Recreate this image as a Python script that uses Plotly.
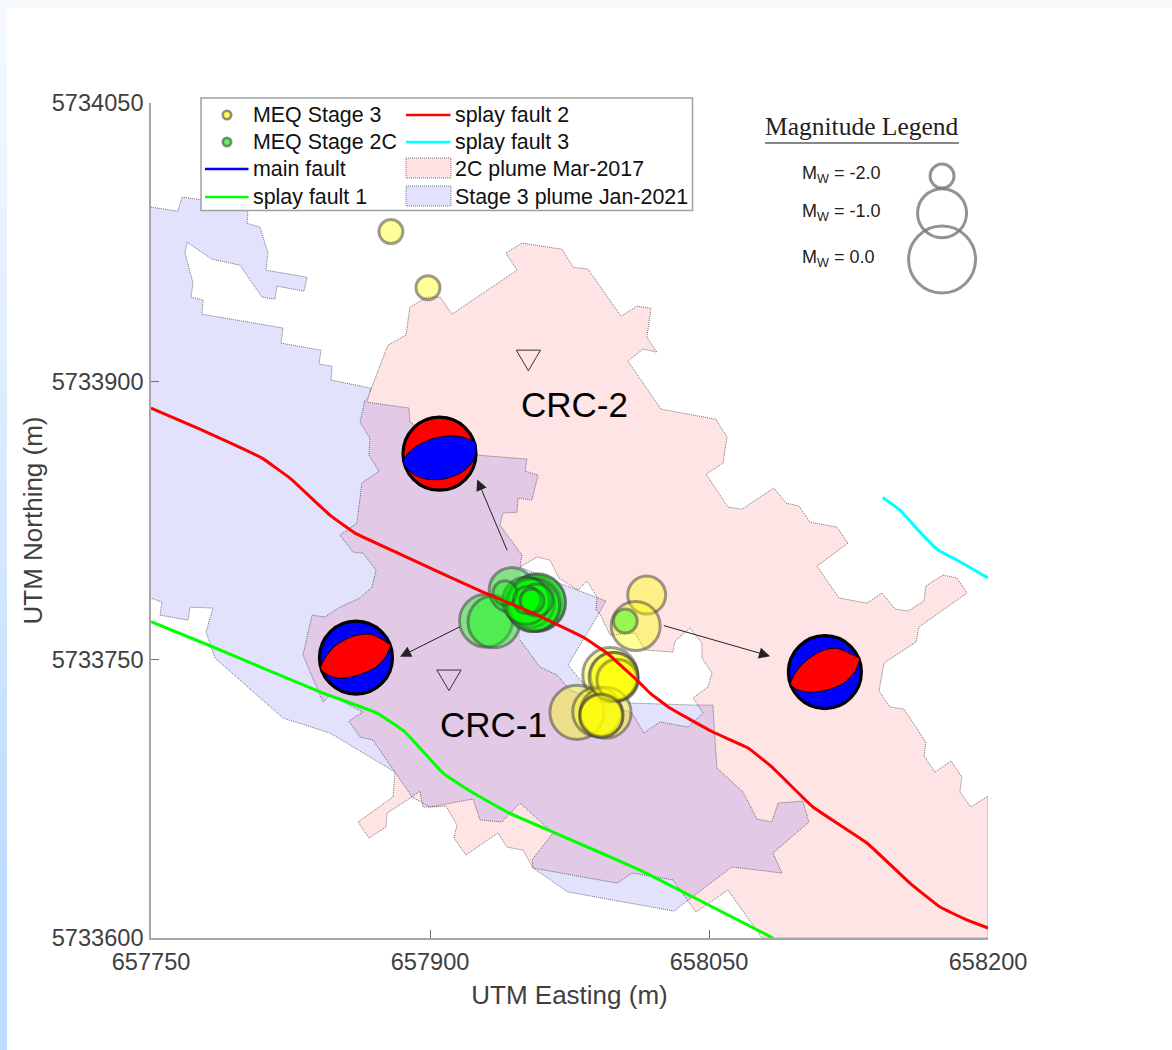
import numpy as np
import plotly.graph_objects as go

# All coordinates: metres east / north of the map's SW corner
E0, N0 = 657750, 5733600
x_ticks = [657750, 657900, 658050, 658200]
y_ticks = [5733600, 5733750, 5733900, 5734050]

plume2c_e = [117.7,127.4,137.1,139.2,148.4,155.4,161.8,196.8,190.8,199.4,221.0,226.9,234.9,252.7,261.3,268.8,266.6,272.0,264.5,256.4,274.2,303.7,309.7,307.5,298.4,310.2,317.7,334.9,341.4,348.4,354.3,368.8,374.7,358.0,369.9,384.9,393.0,400.0,407.0,415.6,416.6,425.8,433.3,438.7,412.9,411.3,394.1,391.4,397.3,404.8,416.6,415.6,421.5,430.1,436.0,434.9,440.8,450,450,328.5,310.2,293.0,280.6,258.6,250.5,205.4,200.0,191.4,186.5,169.3,162.9,164.5,158.6,150.0,140.3,126.9,126.3,117.2,111.3,130.1,131.2,119.3,112.4,106.4,114.0,96.2,92.5,81.7,86.6,93.5,101.6,112.4,118.8,121.0,114.0,108.6,101.6,110.7,113.4,122.6,117.2,117.7,112.4,115.0]
plume2c_n = [294.2,319.5,324.9,340.0,345.4,345.4,336.2,359.9,369.1,374.5,371.2,361.5,360.5,335.1,340.5,339.4,323.8,315.7,317.4,310.9,285.0,279.6,269.9,255.9,250.0,232.2,231.1,242.5,234.4,232.8,224.1,221.4,212.8,200.4,183.2,180.5,185.9,177.3,176.2,181.6,189.7,195.6,194.0,185.9,167.6,159.5,148.2,133.1,124.5,123.4,105.6,98.1,89.4,95.4,86.7,78.7,70.6,76.5,0,0,25.9,14.0,31.3,35.0,29.6,37.7,47.4,49.0,56.6,44.7,53.9,60.9,71.1,70.6,76.0,67.4,59.8,53.9,62.5,76.0,89.4,106.7,108.3,116.9,121.8,130.9,127.2,152.5,174.0,173.0,178.3,183.2,189.1,198.3,207.4,208.0,217.1,223.6,245.2,251.6,260.2,269.4,278.0,289.9]
hole2c_e = [198.4,207.5,214.5,219.3,229.6,234.4,239.8,239.2,241.4,246.8,260.2,265.6,280.6,281.7,289.8,296.2,296.2,301.6,299.4,291.4,296.8,288.7,273.6,265.0,258.6,225.3,218.3,209.1,198.4]
hole2c_n = [199.9,205.3,203.7,194.0,187.5,192.4,183.7,176.7,174.6,163.3,164.3,155.2,154.1,160.0,167.0,158.9,150.9,142.8,135.2,129.3,121.2,113.7,116.4,110.5,121.2,133.6,141.7,146.0,160.6]
plume3_e = [0,14.5,16.7,28.5,47.8,52.1,51.6,58.6,62.9,61.8,83.9,82.3,67.7,66.7,59.7,47.8,32.8,19.4,18.3,22.6,21.5,28.0,27.4,71.0,69.9,91.4,90.3,97.3,96.8,118.3,116.1,138.7,139.2,155.4,175.8,202.1,201.1,208.1,204.8,197.3,196.8,189.2,187.6,199.4,198.4,219.3,239.8,244.6,240.3,224.2,232.2,257.5,293.5,302.1,303.2,304.3,318.3,325.8,333.8,337.1,350.5,353.7,334.4,339.2,312.3,281.2,224.2,205.4,204.8,216.1,198.4,188.7,176.9,173.1,150.0,146.2,144.6,140.3,131.2,96.2,71.0,34.4,29.6,33.3,21.0,19.9,4.8,5.9,0]
plume3_n = [393.9,391.7,399.3,397.6,394.9,391.2,385.2,383.1,369.1,359.9,356.1,348.6,351.3,344.3,345.4,362.6,365.8,375.0,369.1,352.9,345.4,343.8,336.2,328.7,320.6,316.8,309.3,308.2,300.7,296.3,288.8,285.6,278.0,268.3,260.2,258.1,251.6,249.5,236.0,237.1,229.5,229.0,222.5,206.4,199.9,191.3,183.7,181.6,174.0,147.1,137.4,126.6,125.5,125.5,106.7,91.6,78.7,64.1,62.5,72.7,73.8,62.5,45.8,35.0,38.3,14.5,24.8,37.7,42.0,56.6,72.7,62.5,63.6,74.9,70.6,70.6,79.2,76.0,89.4,110.5,118.5,150.9,164.9,177.8,178.3,171.3,174.0,181.0,183.2]

fault1_e = [0,31.7,60.2,92.5,121.5,136.6,157.0,171.5,191.4,216.1,262.9,291.4,334.4]
fault1_n = [170.5,157.5,145.5,132.0,121.2,111.0,88.9,79.2,67.9,57.1,36.6,22.1,0]
fault2_e = [0,26.3,45.2,59.7,74.7,96.2,109.7,133.9,160.7,178.5,205.4,232.2,245.1,262.9,268.3,279.0,302.1,321.0,333.9,355.9,384.9,408.0,424.2,437.6,450]
fault2_n = [285.6,274.2,265.6,258.6,247.8,227.9,218.2,206.9,194.5,186.4,175.1,162.2,153.6,137.4,132.0,123.9,111.0,102.4,92.1,70.6,51.2,29.6,16.7,10.2,5.4]
fault3_e = [393.4,402.7,415.0,423.1,433.3,450]
fault3_n = [237.4,230.6,217.1,209.1,203.7,194.0]

meq3_e = [129.0,148.9,266.5,260.6,246.9,248.9,250.4,229.0,239.9,244.4,242.3,250.9,248.7,242.0]
meq3_n = [380.7,350.5,184.8,168.1,141.7,141.2,139.4,121.6,121.9,121.4,120.2,139.0,140.7,119.7]
meq3_mw = [-2.04,-2.0,-1.44,-1.0,-0.67,-1.08,-1.36,-0.72,-1.0,-0.89,-1.24,-1.32,-1.0,-1.24]
meq2c_e = [180.1,184.4,193.9,207.4,205.9,207.5,203.8,205.4,201.6,190.3,207.4,202.1,204.8,255.0]
meq2c_n = [171.0,170.4,187.5,180.5,180.0,181.0,180.5,179.4,181.7,186.0,182.1,182.1,181.6,170.8]
meq2c_mw = [-0.78,-0.83,-1.16,-0.56,-0.67,-0.56,-1.0,-0.78,-1.08,-2.0,-1.68,-1.88,-2.04,-2.04]

mw_scale = [-2.0, -1.0, 0.0]
mw_scale_e = [425.3, 425.3, 425.3]
mw_scale_n = [410.6, 390.6, 365.6]
mw_labels = ["M<sub>W</sub> = -2.0", "M<sub>W</sub> = -1.0", "M<sub>W</sub> = 0.0"]

ball_e = [155.1, 110.2, 362.3]
ball_n = [261.0, 151.1, 143.3]
lens1_e = [135.6,138.3,142.8,151.8,160.7,167.9,174.6,174.6,174.7,172.4,166.1,157.1,148.2,141.0]
lens1_n = [256.6,261.2,265.1,269.2,270.6,269.8,267.1,267.1,261.2,255.8,250.4,247.3,247.3,250.0]
lens2_e = [91.2,93.5,98.9,108.8,118.6,128.9,128.9,126.3,120.4,111.4,101.6,95.3]
lens2_n = [145.3,150.7,157.3,162.7,163.6,157.9,157.9,151.6,145.6,141.7,139.9,141.7]
lens3_e = [343.9,346.2,351.6,360.6,368.6,381.2,381.2,378.5,372.2,363.3,354.3,347.1]
lens3_n = [136.7,142.6,148.9,154.8,156.1,150.7,150.7,143.5,137.2,133.6,132.5,134.0]

arrow_tail_e = [191.8, 166.8, 274.9]
arrow_tail_n = [208.1, 168.1, 168.6]
arrow_tip_e = [175.4, 133.9, 332.8]
arrow_tip_n = [247.1, 151.6, 151.9]

well_names = ["CRC-1", "CRC-2"]
well_e = [160.2, 202.9]
well_n = [139.0, 311.4]
well_label_e = [184.0, 227.5]
well_label_n = [115.0, 287.7]

legend_rows = [("MEQ Stage 3", "splay fault 2"), ("MEQ Stage 2C", "splay fault 3"),
               ("main fault", "2C plume Mar-2017"), ("splay fault 1", "Stage 3 plume Jan-2021")]

# ---- styling / layout -----
W, H = 1172, 1050
L, R, T, B = 151, 988, 103, 938
FONT = "Liberation Sans"
PINK = "rgba(255,20,30,0.115)"
LAV = "rgba(0,0,240,0.115)"
EDGE = dict(color="rgba(50,50,50,0.85)", width=0.8, dash="1px,1px")

ex = lambda v: (np.asarray(v, dtype=float) + E0)
nx = lambda v: (np.asarray(v, dtype=float) + N0)
px = lambda v: (v - L) / (R - L)
py = lambda v: (B - v) / (B - T)
diam = lambda m: np.interp(m, mw_scale, [27, 52, 70]) - 3

fig = go.Figure()

pink_e = plume2c_e + [None] + hole2c_e[::-1]
pink_n = plume2c_n + [None] + hole2c_n[::-1]
fig.add_trace(go.Scatter(x=[None if v is None else v + E0 for v in pink_e],
                         y=[None if v is None else v + N0 for v in pink_n],
                         mode="lines", fill="toself", fillcolor=PINK, line=EDGE, name="2C plume Mar-2017"))
fig.add_trace(go.Scatter(x=ex(plume3_e), y=nx(plume3_n), mode="lines", fill="toself",
                         fillcolor=LAV, line=EDGE, name="Stage 3 plume Jan-2021"))

# wells
for e, n in zip(well_e, well_n):
    fig.add_trace(go.Scatter(x=ex([e - 6.5, e + 6.5, e, e - 6.5]), y=nx([n + 5.4, n + 5.4, n - 5.7, n + 5.4]),
                             mode="lines", line=dict(color="#333333", width=1), name="well"))

EDGE_M = "rgba(60,60,60,0.5)"
fig.add_trace(go.Scatter(x=ex(meq3_e), y=nx(meq3_n), mode="markers", name="MEQ Stage 3",
                         marker=dict(size=diam(meq3_mw), opacity=1, color="rgba(255,255,0,0.4)",
                                     line=dict(color=EDGE_M, width=3))))
fig.add_trace(go.Scatter(x=ex(meq2c_e), y=nx(meq2c_n), mode="markers", name="MEQ Stage 2C",
                         marker=dict(size=diam(meq2c_mw), opacity=1, color="rgba(0,255,0,0.4)",
                                     line=dict(color=EDGE_M, width=3))))

def fault(e, n, name, col):
    fig.add_trace(go.Scatter(x=ex(e), y=nx(n), mode="lines", name=name,
                             line=dict(color=col, width=3, shape="spline", smoothing=0.3)))
fault(fault1_e, fault1_n, "splay fault 1", "#00ff00")
fault(fault2_e, fault2_n, "splay fault 2", "#ff0000")
fault(fault3_e, fault3_n, "splay fault 3", "#00ffff")

# beach balls
ball_bg = ["#ff0000", "#0000ff", "#0000ff"]
ball_fg = ["#0000ff", "#ff0000", "#ff0000"]
lenses = [(lens1_e, lens1_n), (lens2_e, lens2_n), (lens3_e, lens3_n)]
for i in range(3):
    fig.add_trace(go.Scatter(x=ex([ball_e[i]]), y=nx([ball_n[i]]), mode="markers",
                             marker=dict(size=73, color=ball_bg[i], line=dict(color="black", width=3.2)),
                             name="focal mechanism"))
    le, ln = lenses[i]
    fig.add_trace(go.Scatter(x=ex(le + le[:1]), y=nx(ln + ln[:1]), mode="lines", fill="toself",
                             fillcolor=ball_fg[i],
                             line=dict(color="black", width=1, shape="spline", smoothing=0.8, simplify=False),
                             name="focal mechanism"))

# magnitude scale
fig.add_trace(go.Scatter(x=ex(mw_scale_e), y=nx(mw_scale_n), mode="markers", name="Magnitude Legend",
                         marker=dict(size=diam(mw_scale), opacity=1, color="rgba(0,0,0,0)",
                                     line=dict(color="rgba(120,120,120,0.8)", width=3))))

shapes, ann = [], []

# page tint round the figure
def rect(x0, y0, x1, y1, fill, line=None, lw=0, dash=None, layer="above"):
    return dict(type="rect", xref="paper", yref="paper", x0=px(x0), x1=px(x1), y0=py(y0), y1=py(y1),
                fillcolor=fill, line=dict(color=line or "rgba(0,0,0,0)", width=lw, dash=dash), layer=layer)

shapes.append(rect(0, 0, W, 8, "#f8fafe", layer="below"))
steps = 35
for i in range(steps):
    t = i / (steps - 1)
    c0, c1 = np.array([246, 250, 255]), np.array([189, 220, 255])
    c = c0 + (c1 - c0) * min(1.0, t * 1.15)
    shapes.append(rect(0, H * i / steps, 7, H * (i + 1) / steps + 1, "rgb(%d,%d,%d)" % tuple(c), layer="below"))

# hand-built legend box
shapes.append(rect(201, 98, 692.5, 210.5, "white", "#a0a0a0", 1.5))
rows_y = [115, 142, 169, 197]
def hline(x0, x1, y, col):
    return dict(type="line", xref="paper", yref="paper", x0=px(x0), x1=px(x1), y0=py(y), y1=py(y),
                line=dict(color=col, width=2.6), layer="above")
def dot(cx, y, col):
    r = 4.2
    return dict(type="circle", xref="paper", yref="paper", x0=px(cx - r), x1=px(cx + r), y0=py(y + r), y1=py(y - r),
                fillcolor=col, line=dict(color="rgba(70,70,50,0.6)", width=2.6), layer="above")
shapes += [dot(227, rows_y[0], "rgba(255,255,100,1)"), dot(227, rows_y[1], "rgba(100,240,100,1)"),
           hline(205, 248.5, rows_y[2], "#0000ff"), hline(205, 248.5, rows_y[3], "#00ff00"),
           hline(406, 450.5, rows_y[0], "#ff0000"), hline(406, 450.5, rows_y[1], "#00ffff"),
           rect(406, 158, 451, 178, "rgb(254,225,227)", "rgb(90,90,90)", 0.8, "1px,1px"),
           rect(406, 186, 451, 206, "rgb(226,226,252)", "rgb(90,90,90)", 0.8, "1px,1px")]
# magnitude legend underline
shapes.append(dict(type="line", xref="paper", yref="paper", x0=px(765), x1=px(959), y0=py(143), y1=py(143),
                   line=dict(color="#888888", width=2), layer="above"))

def text(s, x, y, size, color="#111111", anchor="left", family=FONT):
    return dict(text=s, xref="paper", yref="paper", x=px(x), y=py(y), xanchor=anchor, yanchor="middle",
                showarrow=False, font=dict(size=size, color=color, family=family))

for (a, b), y in zip(legend_rows, rows_y):
    ann.append(text(a, 251, y, 21.4))
    ann.append(text(b, 453, y, 21.4))

ann.append(text("Magnitude Legend", 862, 127, 25.5, "#222222", "center", "Liberation Serif"))
for s, y in zip(mw_labels, [174.5, 212.5, 258.5]):
    ann.append(text(s, 800, y, 18, "#222222"))

for name, e, n in zip(well_names, well_label_e, well_label_n):
    ann.append(dict(text=name, x=E0 + e, y=N0 + n, xref="x", yref="y", showarrow=False,
                    font=dict(size=35, color="#000000", family=FONT)))

for te, tn, he, hn in zip(arrow_tail_e, arrow_tail_n, arrow_tip_e, arrow_tip_n):
    ann.append(dict(x=he + E0, y=hn + N0, ax=te + E0, ay=tn + N0, xref="x", yref="y", axref="x", ayref="y",
                    text="", showarrow=True, arrowhead=2, arrowsize=2.2, arrowwidth=1, arrowcolor="#222222"))

axis = dict(showgrid=False, zeroline=False, showline=True, linecolor="#a6a6a6", linewidth=1.5,
            ticks="inside", ticklen=8, tickwidth=1, tickcolor="#707070", mirror=False,
            ticklabelstandoff=2, tickfont=dict(size=23.6, color="#404040", family=FONT), tickformat="d")

fig.update_layout(
    width=W, height=H, autosize=False, showlegend=False,
    margin=dict(l=L, r=W - R, t=T, b=H - B, pad=0),
    paper_bgcolor="white", plot_bgcolor="white",
    font=dict(family=FONT),
    shapes=shapes, annotations=ann,
    xaxis=dict(axis, range=[E0, E0 + 450], tickvals=x_ticks,
               title=dict(text="UTM Easting (m)", font=dict(size=26, color="#404040", family=FONT), standoff=12)),
    yaxis=dict(axis, range=[N0, N0 + 450], tickvals=y_ticks, ticklabelstandoff=1,
               title=dict(text="UTM Northing (m)", font=dict(size=26, color="#404040", family=FONT), standoff=2)),
)

fig.write_html("out.html", config={"displayModeBar": False},
               post_script="document.body.style.margin='0';document.body.style.overflow='hidden';window.dispatchEvent(new Event('resize'));")
